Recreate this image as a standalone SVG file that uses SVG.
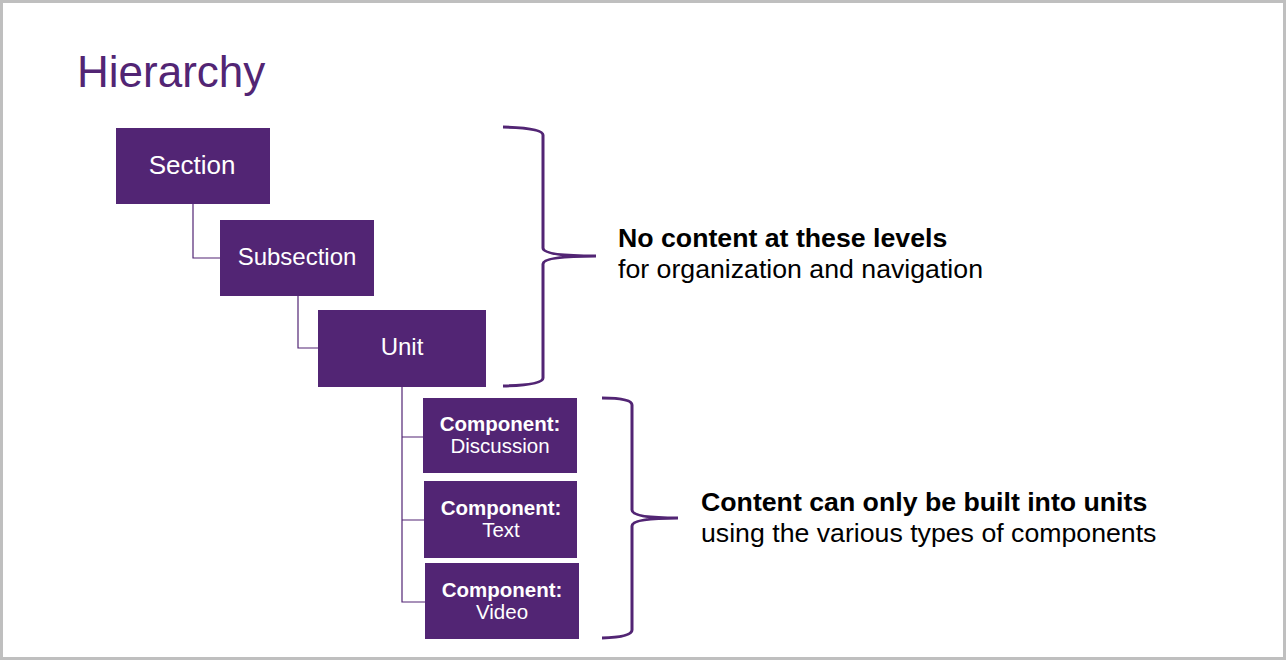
<svg xmlns="http://www.w3.org/2000/svg" width="1286" height="660" viewBox="0 0 1286 660">
<style>
.box{fill:#522574}
.lbl{fill:#fff;font-family:"Liberation Sans",Arial,sans-serif;text-anchor:middle}
.cmp{font-size:20.5px}
.conn{stroke:#522574;stroke-width:1.2;fill:none}
.brace{stroke:#522574;stroke-width:3;fill:none}
.note{fill:#000;font-family:"Liberation Sans",Arial,sans-serif;font-size:26.7px}
</style>
<rect x="1.5" y="1.5" width="1283" height="657" fill="#fff" stroke="#bfbfbf" stroke-width="3"/>
<text x="77" y="87" font-family="Liberation Sans,Arial,sans-serif" font-size="44" fill="#522574">Hierarchy</text>
<g id="connectors">
<path class="conn" d="M193 204 V258 H220"/>
<path class="conn" d="M298 296 V348 H318"/>
<path class="conn" d="M402 387 V602 H425 M402 437 H423 M402 520 H424"/>
</g>
<g id="section"><rect class="box" x="116" y="128" width="154" height="76"/><text class="lbl" x="192" y="174" font-size="26">Section</text></g>
<g id="subsection"><rect class="box" x="220" y="220" width="154" height="76"/><text class="lbl" x="297" y="265" font-size="24">Subsection</text></g>
<g id="unit"><rect class="box" x="318" y="310" width="168" height="77"/><text class="lbl" x="402" y="355" font-size="24">Unit</text></g>
<g id="comp-discussion"><rect class="box" x="423" y="398" width="154" height="75"/><text class="lbl cmp" x="500" y="431" font-weight="bold">Component:</text><text class="lbl cmp" x="500" y="453">Discussion</text></g>
<g id="comp-text"><rect class="box" x="424" y="481" width="153" height="77"/><text class="lbl cmp" x="501" y="515" font-weight="bold">Component:</text><text class="lbl cmp" x="501" y="537">Text</text></g>
<g id="comp-video"><rect class="box" x="425" y="563" width="154" height="76"/><text class="lbl cmp" x="502" y="597" font-weight="bold">Component:</text><text class="lbl cmp" x="502" y="619">Video</text></g>
<g id="brace-top">
<path class="brace" d="M503 127 Q543 128 543 135 V248 Q543 256 596 256 Q543 256 543 264 V378 Q543 385 503 386"/>
</g>
<g id="note-top">
<text class="note" x="618" y="247" font-weight="bold">No content at these levels</text>
<text class="note" x="618" y="278">for organization and navigation</text>
</g>
<g id="brace-bottom">
<path class="brace" d="M602 398 Q632 398 632 405 V510 Q632 518 678 518 Q632 518 632 526 V630 Q632 637 602 638"/>
</g>
<g id="note-bottom">
<text class="note" x="701" y="511" font-weight="bold">Content can only be built into units</text>
<text class="note" x="701" y="542">using the various types of components</text>
</g>
</svg>
